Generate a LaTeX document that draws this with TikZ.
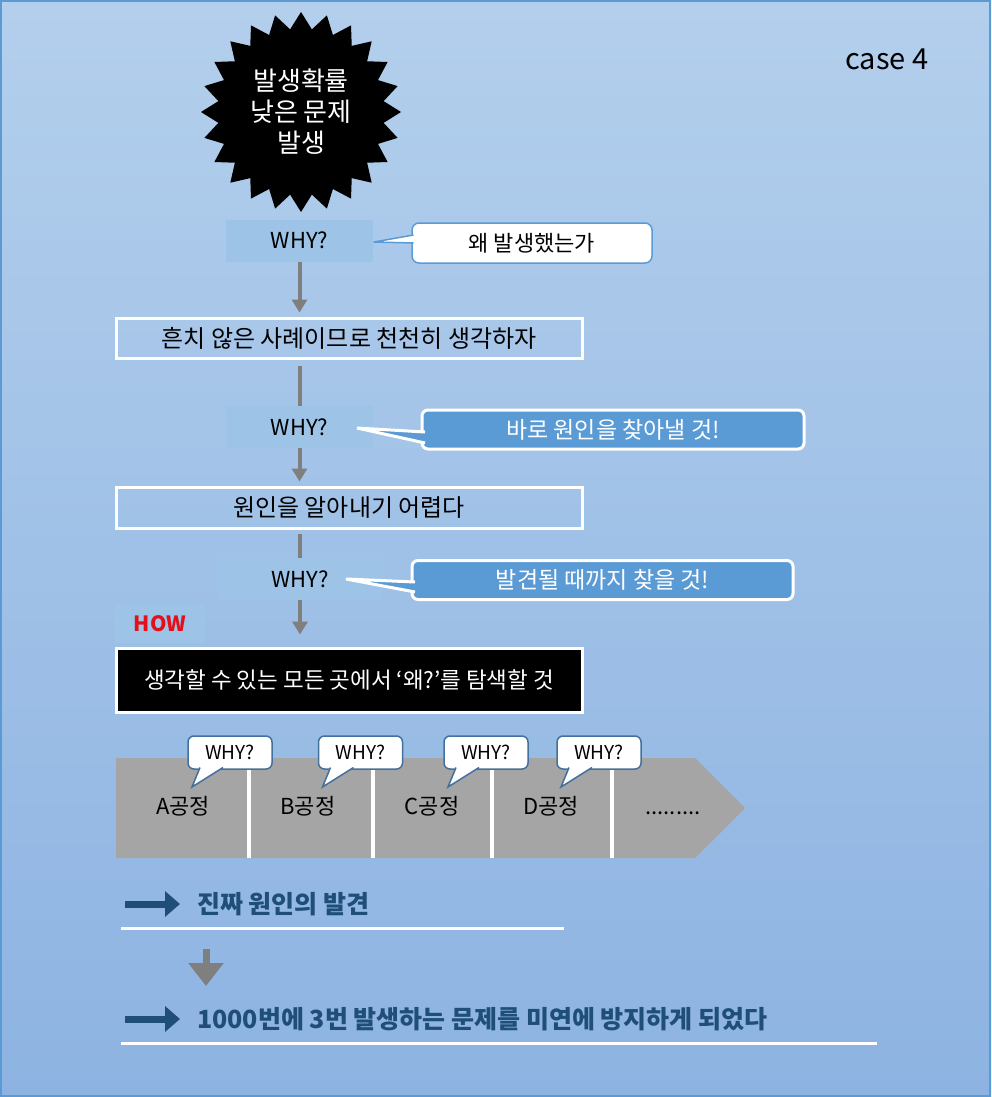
\documentclass[tikz,border=0pt]{standalone}
\usepackage{fontspec}
\setmainfont{Noto Sans CJK KR}
\usepackage{xcolor}
\usepackage{tikz}
\usetikzlibrary{shapes.geometric,arrows.meta,positioning,calc}
\definecolor{CaseTop}  {HTML}{B3CFEC}
\definecolor{CaseBot}  {HTML}{8DB3E2}
\definecolor{CaseFrame}{HTML}{5B9BD5}
\definecolor{WhyFill}  {HTML}{9DC3E6}
\definecolor{NoteBlue} {HTML}{5B9BD5}
\definecolor{TagEdge}  {HTML}{41719C}
\definecolor{FlowGray} {HTML}{7F7F7F}
\definecolor{ProcGray} {HTML}{A5A5A5}
\definecolor{DeepBlue} {HTML}{1F4E79}
\definecolor{HowRed}   {HTML}{E3101B}

\tikzset{
  whybox/.style={fill=WhyFill,minimum height=42pt,inner sep=0pt,font=\fontsize{22}{26}\selectfont},
  casebox/.style={draw=white,line width=3pt,minimum width=466pt,inner sep=0pt,font=\fontsize{24}{28}\selectfont},
  flow/.style={FlowGray,line width=4pt},
  flowarrow/.style={flow,-{Triangle[width=15pt,length=13pt]}},
  notewhite/.style={fill=white,draw=NoteBlue,line width=1.5pt,rounded corners=7pt,outer sep=0pt,
    minimum width=240pt,minimum height=40pt,font=\fontsize{22}{26}\selectfont},
  noteblue/.style={fill=NoteBlue,draw=white,line width=3pt,rounded corners=6pt,outer sep=0pt,
    minimum height=39pt,text=white,font=\fontsize{23}{27}\selectfont},
  whytag/.style={fill=white,draw=TagEdge,line width=1.5pt,rounded corners=6pt,outer sep=0pt,
    minimum width=84pt,minimum height=33pt,inner sep=0pt,font=\fontsize{19}{22}\selectfont},
  stagetxt/.style={font=\fontsize{22}{26}\selectfont},
  resulttxt/.style={anchor=west,inner sep=0pt,text=DeepBlue,font=\fontsize{25}{30}\selectfont\bfseries},
  bulletarrow/.style={DeepBlue,line width=7pt,-{Triangle[width=25pt,length=15pt]}},
  underline/.style={white,line width=3pt}
}

\begin{document}
\begin{tikzpicture}[x=1pt,y=-1pt]
    % background and frame
    \shade[top color=CaseTop,bottom color=CaseBot] (0,0) rectangle (991,1097);
    \draw[CaseFrame,line width=2pt] (1,1) rectangle (990,1096);
    \node[font=\fontsize{29}{34}\selectfont] (caseno) at (887,59) {case 4};

    % burst
    \node[star,star points=24,star point ratio=1.2,minimum size=200pt,inner sep=0pt,fill=black] (burst) at (301,112) {};
    \node[text=white,align=center,font=\fontsize{26}{31}\selectfont] (burstTxt) at (burst.center) {발생확률\\낮은 문제\\발생};

    % why chain
    \node[whybox,minimum width=147pt] (whyA) at (299.5,240.5) {WHY?};
    \node[casebox,minimum height=40pt]  (caseA) at (349,338)   {흔치 않은 사례이므로 천천히 생각하자};
    \node[whybox,minimum width=147pt] (whyB) at (299.5,427)   {WHY?};
    \node[casebox,minimum height=41pt]  (caseB) at (349,507.5) {원인을 알아내기 어렵다};
    \node[whybox,minimum width=166pt] (whyC) at (300,579)     {WHY?};
    \node[fill=WhyFill,minimum width=90pt,minimum height=39pt,inner sep=0pt,
          text=HowRed,font=\fontsize{21}{25}\selectfont\bfseries] (how) at (160,623.5) {HOW};
    \node[casebox,fill=black,text=white,minimum height=64pt,font=\fontsize{22.5}{27}\selectfont]
          (action) at (349,680) {생각할 수 있는 모든 곳에서 ‘왜?’를 탐색할 것};

    \draw[flowarrow] (whyA.south) -- ([yshift=4pt]whyA.south |- caseA.north);
    \draw[flow]      ([yshift=-6pt]caseA.south -| whyB) -- (whyB.north);
    \draw[flowarrow] (whyB.south) -- ([yshift=4pt]whyB.south |- caseB.north);
    \draw[flow]      ([yshift=-4pt]caseB.south -| whyC) -- (whyC.north);
    \draw[flowarrow] (whyC.south) -- ([yshift=12pt]whyC.south |- action.north);

    % callouts
    \node[notewhite] (noteA) at (532,243) {왜 발생했는가};
    \coordinate (tipA) at (374,242);
    \filldraw[fill=white,draw=NoteBlue,line width=1.5pt,line join=round]
        ($(noteA.west)+(1.5,-8)$) -- (tipA) -- ($(noteA.west)+(1.5,0)$);

    \node[noteblue,minimum width=382pt] (noteB) at (613,429.5) {바로 원인을 찾아낼 것!};
    \coordinate (tipB) at (357,428);
    \filldraw[fill=NoteBlue,draw=white,line width=3pt,line join=miter]
        ($(noteB.west)+(3,2.5)$) -- (tipB) -- ($(noteB.west)+(3,13.5)$);

    \node[noteblue,minimum width=381pt] (noteC) at (602.5,580) {발견될 때까지 찾을 것!};
    \coordinate (tipC) at (346,579);
    \filldraw[fill=NoteBlue,draw=white,line width=3pt,line join=miter]
        ($(noteC.west)+(3,2)$) -- (tipC) -- ($(noteC.west)+(3,12)$);

    % process band
    \fill[ProcGray] (116,758) -- (695,758) -- (745,808) -- (695,858) -- (116,858) -- cycle;
    \foreach \x in {249,373,492,612}
        \draw[white,line width=4pt] (\x,758) -- (\x,858);
    \node[stagetxt] (stageA) at (183,806) {A공정};
    \node[stagetxt] (stageB) at (308,806) {B공정};
    \node[stagetxt] (stageC) at (432,806) {C공정};
    \node[stagetxt] (stageD) at (551,806) {D공정};
    \node[stagetxt,anchor=base] (stageE) at (673,814) {.........};
    \foreach \i/\x in {1/230,2/360.5,3/486,4/599}{
        \node[whytag] (tag\i) at (\x,752.5) {WHY?};
        \filldraw[fill=white,draw=TagEdge,line width=1.5pt]
            ($(tag\i.south west)+(12,-1.5)$) -- ($(tag\i.south west)+(4,18)$) -- ($(tag\i.south west)+(35,-1.5)$);
    }

    % results
    \node[resulttxt] (findTxt) at (197,904) {진짜 원인의 발견};
    \draw[bulletarrow] ($(findTxt.west)+(-72,0)$) -- ($(findTxt.west)+(-17,0)$);
    \draw[underline] (121,928) -- (564,928);

    \coordinate (dnTop) at (206,949);
    \coordinate (dnBot) at (206,986);
    \draw[FlowGray,line width=7pt,-{Triangle[width=34pt,length=23pt]}] (dnTop) -- (dnBot);

    \node[resulttxt] (preventTxt) at (197,1019) {1000번에 3번 발생하는 문제를 미연에 방지하게 되었다};
    \draw[bulletarrow] ($(preventTxt.west)+(-72,0)$) -- ($(preventTxt.west)+(-17,0)$);
    \draw[underline] (121,1043) -- (877,1043);
  \end{tikzpicture}
\end{document}
